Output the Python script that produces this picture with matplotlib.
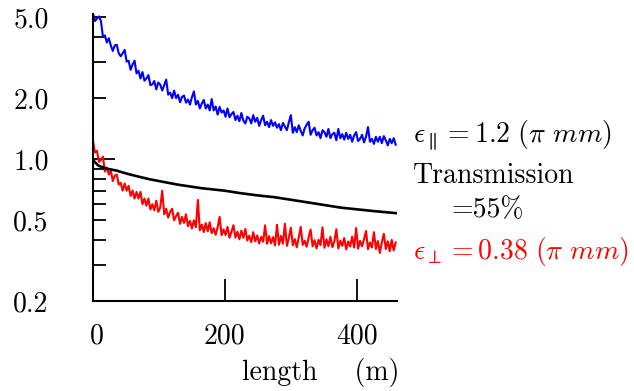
import numpy as np
import matplotlib
matplotlib.use("Agg")
import matplotlib.pyplot as plt
from matplotlib.transforms import ScaledTranslation

plt.rcParams['mathtext.fontset'] = 'cm'
plt.rcParams['font.family'] = ['cmr10', 'DejaVu Serif']
plt.rcParams['axes.unicode_minus'] = False

# ---------------- data ----------------
length_m = np.arange(0, 460, 3)

emit_parallel = [
    5.25, 4.80, 4.94, 5.06, 4.81, 4.03, 4.08, 3.76, 3.95, 3.64, 3.42, 3.64, 3.67, 3.33,
    3.22, 3.33, 3.46, 3.03, 3.06, 2.76, 2.93, 3.06, 2.65, 2.73, 2.50, 2.69, 2.44, 2.50,
    2.60, 2.32, 2.34, 2.43, 2.21, 2.39, 2.33, 2.18, 2.32, 2.47, 2.08, 2.13, 2.00, 2.18,
    2.00, 2.08, 1.91, 2.03, 2.06, 1.90, 1.97, 1.86, 2.02, 2.16, 1.86, 1.94, 1.78, 1.88,
    1.96, 1.78, 1.86, 1.74, 1.98, 1.74, 1.82, 1.66, 1.81, 1.70, 1.74, 1.62, 1.78, 1.61,
    1.67, 1.71, 1.56, 1.64, 1.54, 1.69, 1.55, 1.50, 1.62, 1.59, 1.50, 1.65, 1.53, 1.60,
    1.46, 1.56, 1.64, 1.47, 1.53, 1.44, 1.56, 1.46, 1.52, 1.43, 1.49, 1.39, 1.51, 1.45,
    1.39, 1.52, 1.65, 1.35, 1.44, 1.36, 1.47, 1.38, 1.31, 1.42, 1.48, 1.53, 1.32, 1.39,
    1.43, 1.31, 1.36, 1.27, 1.39, 1.36, 1.29, 1.41, 1.27, 1.33, 1.35, 1.24, 1.41, 1.27,
    1.33, 1.25, 1.35, 1.26, 1.32, 1.22, 1.31, 1.36, 1.23, 1.26, 1.32, 1.21, 1.29, 1.44,
    1.22, 1.26, 1.19, 1.29, 1.22, 1.29, 1.20, 1.30, 1.24, 1.17, 1.26, 1.20, 1.27, 1.18,
]

emit_perp = [
    1.23, 1.08, 1.10, 0.97, 0.99, 1.03, 0.87, 0.91, 0.84, 0.88, 0.78, 0.83, 0.84, 0.75,
    0.765, 0.70, 0.76, 0.70, 0.74, 0.66, 0.70, 0.64, 0.69, 0.64, 0.69, 0.60, 0.64, 0.59,
    0.64, 0.565, 0.60, 0.56, 0.625, 0.55, 0.58, 0.70, 0.535, 0.57, 0.515, 0.55, 0.57, 0.50,
    0.525, 0.545, 0.48, 0.52, 0.485, 0.535, 0.468, 0.497, 0.456, 0.50, 0.463, 0.63, 0.446, 0.476,
    0.437, 0.484, 0.441, 0.489, 0.432, 0.457, 0.424, 0.462, 0.52, 0.422, 0.451, 0.423, 0.464, 0.41,
    0.439, 0.473, 0.411, 0.439, 0.403, 0.445, 0.41, 0.453, 0.397, 0.42, 0.39, 0.437, 0.394, 0.421,
    0.384, 0.414, 0.392, 0.472, 0.383, 0.418, 0.385, 0.413, 0.376, 0.475, 0.379, 0.419, 0.383, 0.481,
    0.374, 0.409, 0.46, 0.376, 0.404, 0.368, 0.411, 0.464, 0.378, 0.397, 0.37, 0.411, 0.45, 0.372,
    0.399, 0.363, 0.401, 0.377, 0.462, 0.366, 0.403, 0.372, 0.415, 0.368, 0.394, 0.452, 0.363, 0.397,
    0.374, 0.409, 0.359, 0.393, 0.371, 0.416, 0.367, 0.458, 0.362, 0.396, 0.372, 0.403, 0.443, 0.36,
    0.389, 0.367, 0.437, 0.361, 0.395, 0.345, 0.389, 0.429, 0.361, 0.394, 0.352, 0.40, 0.355, 0.389,
]

trans_x = [0, 8, 20, 35, 53, 73, 88, 128, 164, 199, 224, 255, 275, 325, 376, 426, 460]
transmission = [0.99, 0.93, 0.90, 0.88, 0.846, 0.815, 0.794, 0.75, 0.72, 0.70, 0.68,
                0.66, 0.65, 0.613, 0.577, 0.555, 0.542]

x_ticks = [0, 200, 400]
x_ticklabels = ['0', '200', '400']
y_ticks = [0.2, 0.3, 0.4, 0.5, 0.6, 0.7, 0.8, 0.9, 1.0, 2.0, 3.0, 4.0, 5.0]
y_ticklabels = ['0.2', '', '', '0.5', '', '', '', '', '1.0', '2.0', '', '', '5.0']

label_par = r'$\epsilon_{\parallel} = 1.2\ (\pi\ mm)$'
label_trans = 'Transmission'
label_trans2 = '=55%'
label_perp = r'$\epsilon_{\perp} = 0.38\ (\pi\ mm)$'
x_label = 'length    (m)'

# ---------------- figure ----------------
W, H = 634, 391
fig = plt.figure(figsize=(W / 100, H / 100), dpi=100)
ax = fig.add_axes([93 / W, (H - 301) / H, (397 - 93) / W, (301 - 14) / H])

ax.plot(length_m, emit_parallel, color='#0000ff', lw=1.5)
ax.plot(length_m, emit_perp, color='#ff0000', lw=1.5)
ax.plot(trans_x, transmission, color='black', lw=1.9)

ax.set_yscale('log')
ax.set_ylim(0.2, 5.2)
ax.set_xlim(0, 461)

for s in ['top', 'right']:
    ax.spines[s].set_visible(False)
for s in ['left', 'bottom']:
    ax.spines[s].set_linewidth(1.5)

ax.yaxis.set_minor_locator(matplotlib.ticker.NullLocator())
ax.set_yticks(y_ticks)
ax.set_yticklabels(y_ticklabels)
ax.set_xticks(x_ticks)
ax.set_xticklabels(x_ticklabels)
ax.tick_params(axis='both', direction='in', width=1.3, labelsize=20)
ax.tick_params(axis='y', length=9.4, pad=32)
ax.tick_params(axis='x', length=15.5, pad=16)

for val, t in zip(y_ticks, ax.yaxis.get_major_ticks()):
    if val == 1.0:
        t.tick1line.set_markersize(15.5)
    elif val == 0.2:
        t.tick1line.set_markersize(0)
for val, t in zip(x_ticks, ax.xaxis.get_major_ticks()):
    if val == 0:
        t.tick1line.set_markersize(0)
        lab = t.label1
        lab.set_transform(lab.get_transform() + ScaledTranslation(4 / 100, 0, fig.dpi_scale_trans))

fig.text(413 / W, 1 - 136 / H, label_par, fontsize=20, va='center', ha='left')
fig.text(413 / W, 1 - 176 / H, label_trans, fontsize=20, va='center', ha='left')
fig.text(451 / W, 1 - 210 / H, label_trans2, fontsize=20, va='center', ha='left')
fig.text(413 / W, 1 - 251 / H, label_perp, fontsize=20, va='center', ha='left', color='#ff0000')
fig.text(242 / W, 1 - 380 / H, x_label, fontsize=20, va='baseline', ha='left')

fig.savefig('out.png', dpi=100)
